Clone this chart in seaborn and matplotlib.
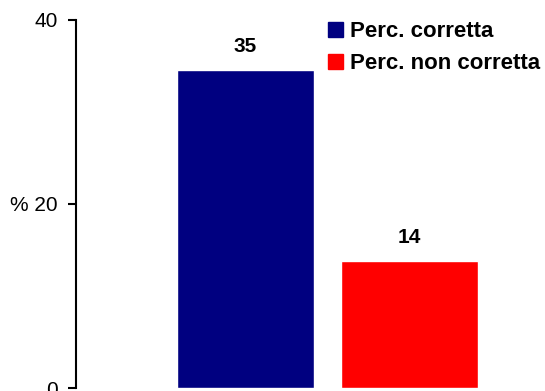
import matplotlib
matplotlib.use("Agg")
import matplotlib.pyplot as plt
import seaborn as sns
import pandas as pd

# data
categories = ["Perc. corretta", "Perc. non corretta"]
values = [34.6, 13.8]
colors = ["#000080", "#ff0000"]
y_ticks = [0, 20, 40]
y_tick_labels = ["0", "% 20", "40"]

sns.set_style("white")
plt.rcParams["font.family"] = ["Liberation Sans", "DejaVu Sans"]
plt.rcParams["text.color"] = "black"
plt.rcParams["ytick.color"] = "black"

df = pd.DataFrame({"cat": categories, "val": values})

fig = plt.figure(figsize=(5.45, 3.91), dpi=100)
ax = fig.add_axes([76 / 545, 3 / 391, 1 - 76 / 545, 368 / 391])

sns.barplot(data=df, x="cat", y="val", hue="cat", palette=colors,
            width=0.835, saturation=1, legend=False, ax=ax)

for i, v in enumerate(values):
    ax.annotate(f"{v:.0f}", (i, v), xytext=(0, 13), textcoords="offset points",
                ha="center", va="baseline", fontsize=15, fontweight="bold")

ax.set_ylim(0, 40)
ax.set_xlim(-1.034, 1.826)
ax.set_yticks(y_ticks)
ax.set_yticklabels(y_tick_labels, fontsize=15)
ax.set_xticks([])
ax.set_xlabel("")
ax.set_ylabel("")
ax.tick_params(axis="y", direction="out", length=6, width=1.5, pad=7, left=True,
               colors="black")

for side in ["top", "right", "bottom"]:
    ax.spines[side].set_visible(False)
ax.spines["left"].set_linewidth(1.5)
ax.spines["left"].set_color("black")

handles = [plt.Rectangle((0, 0), 1, 1, color=c) for c in colors]
ax.legend(handles, categories, loc="upper left",
          bbox_to_anchor=(328 / 545, 1 - 21 / 391), bbox_transform=fig.transFigure,
          frameon=False, borderpad=0, handlelength=0.68, handleheight=0.68,
          handletextpad=0.32, labelspacing=0.5, borderaxespad=0,
          prop={"size": 16, "weight": "bold"})

fig.savefig("out.png", dpi=100)
